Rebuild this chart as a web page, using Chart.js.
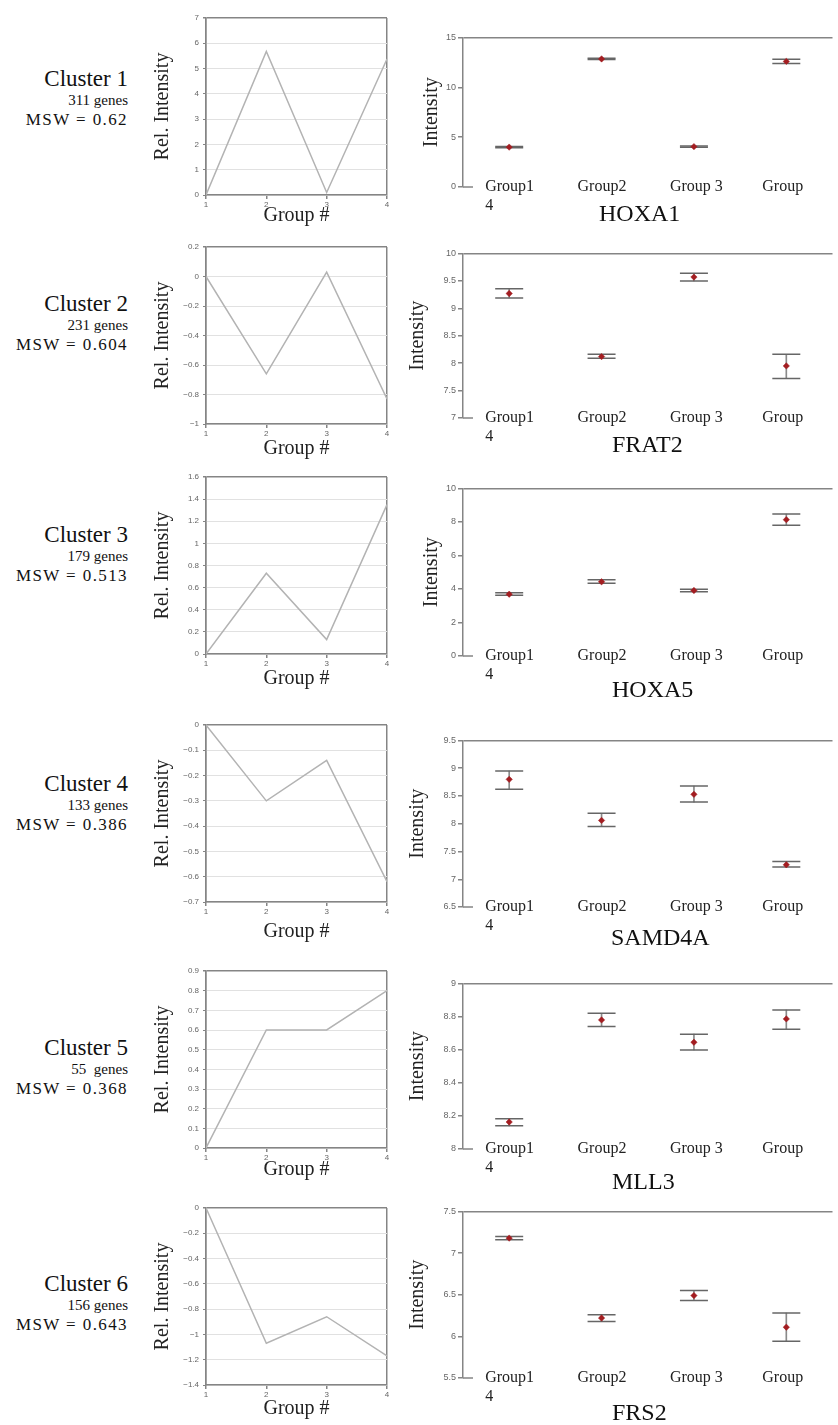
<!DOCTYPE html>
<html>
<head>
<meta charset="utf-8">
<script src="https://cdn.jsdelivr.net/npm/chart.js@4.4.1/dist/chart.umd.min.js"></script>
<style>
  body { margin: 0; background: #fff; width: 838px; height: 1425px; overflow: hidden; position: relative;
         font-family: 'Liberation Serif', 'DejaVu Serif', serif; color: #111; }
  canvas { position: absolute; }
  .lbl { position: absolute; right: 710px; text-align: right; white-space: pre; line-height: 1; }
  .name { font-size: 23px; }
  .info { font-size: 15px; }
  .msw { font-size: 17px; letter-spacing: 1.4px; }
  .gene { position: absolute; font-size: 24px; line-height: 1; white-space: pre; }
</style>
</head>
<body>
<script>
// clusters (left column)
const clusterNames = ['Cluster 1', 'Cluster 2', 'Cluster 3', 'Cluster 4', 'Cluster 5', 'Cluster 6'];
const geneCounts = ['311 genes', '231 genes', '179 genes', '133 genes', '55  genes', '156 genes'];
const mswValues = ['0.62', '0.604', '0.513', '0.386', '0.368', '0.643'];

// relative intensity profiles, x = group #
const groupNums = [1, 2, 3, 4];
const relIntensity = [
    [0, 5.68, 0.1, 5.38],
    [0, -0.66, 0.03, -0.83],
    [0, 0.73, 0.13, 1.35],
    [0, -0.3, -0.14, -0.62],
    [0, 0.6, 0.6, 0.8],
    [0, -1.07, -0.86, -1.17]
];
const relMin = [0, -1, 0, -0.7, 0, -1.4];
const relMax = [7, 0.2, 1.6, 0, 0.9, 0];
const relStep = [1, 0.2, 0.2, 0.1, 0.1, 0.2];

// representative genes, mean intensity with error range
const geneNames = ['HOXA1', 'FRAT2', 'HOXA5', 'SAMD4A', 'MLL3', 'FRS2'];
const groupLabels = [['Group1', '4'], 'Group2', 'Group 3', 'Group'];
const meanIntensity = [
    [4.0, 12.85, 4.05, 12.6],
    [9.27, 8.12, 9.57, 7.95],
    [3.69, 4.43, 3.91, 8.14],
    [8.8, 8.06, 8.53, 7.26],
    [8.163, 8.78, 8.645, 8.786],
    [7.18, 6.22, 6.49, 6.11]
];
const lowIntensity = [
    [3.93, 12.79, 3.98, 12.39],
    [9.19, 8.09, 9.5, 7.72],
    [3.63, 4.34, 3.83, 7.81],
    [8.62, 7.95, 8.39, 7.22],
    [8.14, 8.74, 8.598, 8.724],
    [7.16, 6.18, 6.43, 5.94]
];
const highIntensity = [
    [4.07, 12.91, 4.12, 12.81],
    [9.356, 8.163, 9.64, 8.163],
    [3.77, 4.55, 3.98, 8.48],
    [8.95, 8.19, 8.68, 7.32],
    [8.183, 8.82, 8.694, 8.84],
    [7.2, 6.26, 6.55, 6.28]
];
const intMin = [0, 7, 0, 6.5, 8, 5.5];
const intMax = [15, 10, 10, 9.5, 9, 7.5];
const intStep = [5, 0.5, 2, 0.5, 0.2, 0.5];

// layout (page pixels)
const leftTop = [18, 247, 477, 725, 971, 1208];
const groupTitleOff = [21, 25, 25, 30, 22, 24];
const rightTop = [34, 250, 485, 737, 980, 1208];
const rightH = [153, 168, 171, 170, 169, 170];
const intTitleX = [32, 18, 32, 18, 18, 18];
const geneX = [599, 612, 612, 611, 612, 612];
const geneY = [213, 444, 689, 937, 1181, 1412];
const labelY = [79, 304, 535, 784, 1048, 1284];

const SERIF = "'Liberation Serif', 'DejaVu Serif', serif";
const SANS = "'Liberation Sans', Arial, sans-serif";
const FRAME = '#858585';
const RED = '#a31d21';

function addCanvas(x, y, w, h) {
    const cv = document.createElement('canvas');
    cv.width = w;
    cv.height = h;
    cv.style.left = x + 'px';
    cv.style.top = y + 'px';
    cv.style.width = w + 'px';
    cv.style.height = h + 'px';
    document.body.appendChild(cv);
    return cv;
}

function num(v) {
    return String(Math.round(v * 100) / 100).replace('-', '\u2212');
}

// short stub of the x axis next to the intensity axis
const stubPlugin = {
    id: 'stub',
    afterDraw(chart) {
        const { ctx, chartArea } = chart;
        ctx.save();
        ctx.strokeStyle = FRAME;
        ctx.lineWidth = 1.5;
        ctx.beginPath();
        ctx.moveTo(chartArea.left, chartArea.bottom);
        ctx.lineTo(chartArea.left + 10, chartArea.bottom);
        ctx.stroke();
        ctx.restore();
    }
};

function relChart(i) {
    const axisH = groupTitleOff[i] + 12;
    const cv = addCanvas(140, leftTop[i] - 18, 260, 18 + 177 + axisH);
    new Chart(cv, {
        type: 'line',
        data: {
            datasets: [{
                data: groupNums.map((g, k) => ({ x: g, y: relIntensity[i][k] })),
                borderColor: '#b3b3b3',
                borderWidth: 1.5,
                pointRadius: 0,
                tension: 0
            }]
        },
        options: {
            responsive: false,
            animation: false,
            layout: { padding: { top: 18, right: 13, left: 0, bottom: 0 } },
            plugins: { legend: { display: false }, tooltip: { enabled: false } },
            scales: {
                x: {
                    type: 'linear', min: 1, max: 4,
                    ticks: { stepSize: 1, font: { family: SANS, size: 8 }, color: '#666', padding: 1, autoSkip: false },
                    grid: {
                        color: c => (c.tick.value === 1 || c.tick.value === 4) ? FRAME : 'transparent',
                        lineWidth: 1.5, tickColor: FRAME, tickLength: 4
                    },
                    border: { color: FRAME, width: 1.5 },
                    title: { display: true, text: 'Group #', font: { family: SERIF, size: 20 }, color: '#222', padding: 0 },
                    afterFit: s => { s.height = axisH; }
                },
                y: {
                    min: relMin[i], max: relMax[i],
                    ticks: { stepSize: relStep[i], font: { family: SANS, size: 8 }, color: '#666', padding: 4,
                             callback: v => num(v) },
                    grid: {
                        color: c => c.tick.value >= relMax[i] - 1e-9 ? FRAME : '#e1e1e1',
                        lineWidth: c => c.tick.value >= relMax[i] - 1e-9 ? 1.5 : 1,
                        tickColor: FRAME, tickLength: 3
                    },
                    border: { color: FRAME, width: 1.5 },
                    title: { display: true, text: 'Rel. Intensity', font: { family: SERIF, size: 20 }, color: '#222',
                             padding: { top: 11, bottom: 0 } },
                    afterFit: s => { s.width = 66; }
                }
            }
        }
    });
}

function intChart(i) {
    const cv = addCanvas(400, rightTop[i] - 12, 448, 12 + rightH[i] + 30);
    const caps = { type: 'line', showLine: false, pointBorderColor: '#666', pointBorderWidth: 1.5,
                   pointStyle: 'line', pointRadius: 14 };
    new Chart(cv, {
        type: 'bar',
        data: {
            labels: groupLabels,
            datasets: [
                { type: 'line', showLine: false, data: meanIntensity[i], pointStyle: 'rectRot', pointRadius: 3.2,
                  pointBackgroundColor: RED, pointBorderColor: RED, pointBorderWidth: 0.5 },
                Object.assign({ data: highIntensity[i] }, caps),
                Object.assign({ data: lowIntensity[i] }, caps),
                { type: 'bar', data: groupLabels.map((g, k) => [lowIntensity[i][k], highIntensity[i][k]]),
                  barThickness: 1, backgroundColor: '#8a8a8a', borderWidth: 0 }
            ]
        },
        options: {
            responsive: false,
            animation: false,
            layout: { padding: { top: 12, right: 0, left: 0, bottom: 0 } },
            plugins: { legend: { display: false }, tooltip: { enabled: false } },
            scales: {
                x: {
                    grid: { display: false, drawTicks: false },
                    border: { display: false },
                    // mirrored so the labels may sit level with the bottom of the axis
                    ticks: { mirror: true, align: 'start', labelOffset: -24, padding: -9.2, maxRotation: 0,
                             autoSkip: false, font: { family: SERIF, size: 16, lineHeight: 1.15 }, color: '#222' },
                    afterFit: s => { s.height = 30; }
                },
                y: {
                    min: intMin[i], max: intMax[i],
                    ticks: { stepSize: intStep[i], font: { family: SANS, size: 9 }, color: '#666', padding: 2,
                             callback: v => num(v) },
                    grid: {
                        color: c => c.tick.value >= intMax[i] - 1e-9 ? FRAME : 'transparent',
                        lineWidth: 1.5, tickColor: FRAME, tickLength: 5
                    },
                    border: { color: FRAME, width: 1.5 },
                    title: { display: true, text: 'Intensity', font: { family: SERIF, size: 20 }, color: '#222',
                             padding: { top: intTitleX[i] - 12, bottom: 0 } },
                    afterFit: s => { s.width = 63; }
                }
            }
        },
        plugins: [stubPlugin]
    });
}

function addText(cls, text, top, left) {
    const d = document.createElement('div');
    d.className = cls;
    d.textContent = text;
    d.style.top = top + 'px';
    if (left !== undefined) d.style.left = left + 'px';
    document.body.appendChild(d);
}

for (let i = 0; i < 6; i++) {
    addText('lbl name', clusterNames[i], labelY[i] - 12);
    addText('lbl info', geneCounts[i], labelY[i] + 14);
    addText('lbl msw', 'MSW = ' + mswValues[i], labelY[i] + 32);
    relChart(i);
    intChart(i);
    addText('gene', geneNames[i], geneY[i] - 12, geneX[i]);
}
</script>
</body>
</html>
